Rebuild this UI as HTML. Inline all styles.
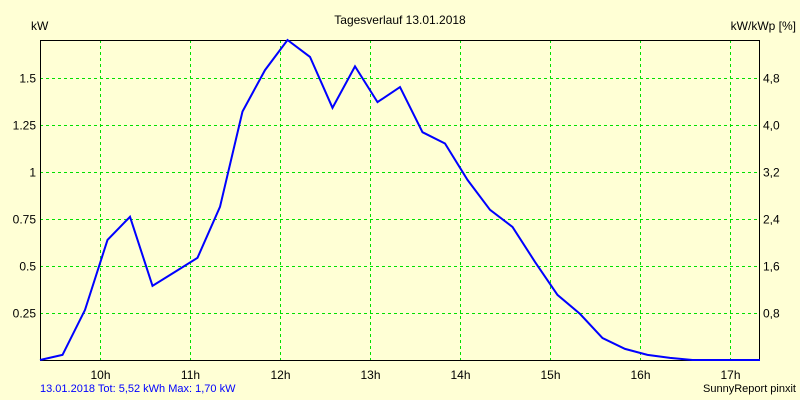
<!DOCTYPE html>
<html><head><meta charset="utf-8"><style>
body{margin:0;background:#ffffd5;}
svg{display:block;font-family:"Liberation Sans",sans-serif;}
</style></head><body>
<svg id="chart" width="800" height="400" viewBox="0 0 800 400">
<rect width="800" height="400" fill="#ffffd5"/>
<text x="400" y="24" font-size="12" text-anchor="middle">Tagesverlauf 13.01.2018</text>
<text x="31" y="30" font-size="12">kW</text>
<text x="796" y="30" font-size="12" text-anchor="end">kW/kWp [%]</text>
<g id="grid"></g><g id="axes"></g><g id="series"></g>
<text x="40" y="392" font-size="11" fill="#0000ff">13.01.2018 Tot: 5,52 kWh Max: 1,70 kW</text>
<text x="796" y="392" font-size="11" text-anchor="end">SunnyReport pinxit</text>
</svg>
<script>
const startHour = 9.3333;
const stepHours = 0.25;
const powerKw = [0,0.027,0.266,0.638,0.761,0.394,0.468,0.543,0.814,1.32,1.54,1.70,1.61,1.34,1.56,1.37,1.45,1.21,1.15,0.957,0.798,0.707,0.521,0.346,0.245,0.117,0.059,0.027,0.011,0,0,0,0];
const hourTicks = [10,11,12,13,14,15,16,17];
const leftTicks = [0.25,0.5,0.75,1,1.25,1.5];
const leftLabels = ["0.25","0.5","0.75","1","1.25","1.5"];
const rightTicks = [0.8,1.6,2.4,3.2,4.0,4.8];
const rightLabels = ["0,8","1,6","2,4","3,2","4,0","4,8"];

const L=40,R=759,T=40,B=360,xMin=9.3333,xMax=17.3222,yMax=1.70,rMax=5.44;
const sx=h=>L+(h-xMin)/(xMax-xMin)*(R-L);
const sy=v=>B-v/yMax*(B-T);
const sr=v=>B-v/rMax*(B-T);
const NS="http://www.w3.org/2000/svg";
function mk(tag,attrs,parent){const e=document.createElementNS(NS,tag);for(const k in attrs)e.setAttribute(k,attrs[k]);parent.appendChild(e);return e;}
const grid=document.getElementById('grid'),axes=document.getElementById('axes'),series=document.getElementById('series');
hourTicks.forEach(h=>{
  const x=Math.round(sx(h))+0.5;
  const g=mk('line',{x1:x,x2:x,y1:T,y2:B,stroke:'#00e000','stroke-dasharray':'3,3'},grid);
  
  
  const t=mk('text',{x:x,y:B+19,'font-size':12,'text-anchor':'middle'},axes);
  t.textContent=h+'h';
  
  
});
leftTicks.forEach((v,i)=>{
  const y=Math.round(sy(v))+0.5;
  const g=mk('line',{x1:L,x2:R,y1:y,y2:y,stroke:'#00e000','stroke-dasharray':'3,3'},grid);
  
  
  const t=mk('text',{x:L-4,y:y+4,'font-size':12,'text-anchor':'end'},axes);
  t.textContent=leftLabels[i];
  
  
});
rightTicks.forEach((v,i)=>{
  const y=Math.round(sr(v))+0.5;
  const t=mk('text',{x:R+4,y:y+4,'font-size':12},axes);
  t.textContent=rightLabels[i];
  
  
});
const frame=mk('path',{d:`M${L+.5},${T} V${B+.5} H${R+.5} V${T}`,fill:'none',stroke:'#000'},axes);


const tl=mk('line',{x1:L,x2:R,y1:T+.5,y2:T+.5,stroke:'#000'},axes);


const pts=powerKw.map((v,i)=>sx(startHour+i*stepHours).toFixed(1)+','+sy(v).toFixed(1)).join(' ');
const line=mk('polyline',{points:pts,fill:'none',stroke:'#0000ff','stroke-width':2},series);


</script>
</body></html>
